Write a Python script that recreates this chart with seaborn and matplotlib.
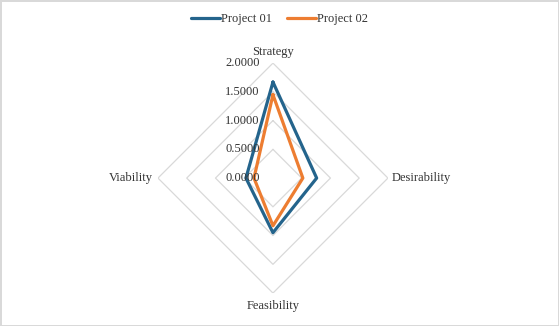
import numpy as np
import pandas as pd
import matplotlib
matplotlib.use("Agg")
import matplotlib.pyplot as plt
import seaborn as sns

categories = ["Strategy", "Desirability", "Feasibility", "Viability"]
project_01 = [1.67, 0.76, 0.95, 0.47]
project_02 = [1.45, 0.52, 0.83, 0.33]
ticks = [0.0, 0.5, 1.0, 1.5, 2.0]
tick_labels = ["0.0000", "0.5000", "1.0000", "1.5000", "2.0000"]

sns.set_style("white")
plt.rcParams["font.family"] = ["Liberation Serif", "DejaVu Serif"]

angles = np.linspace(0, 2 * np.pi, len(categories), endpoint=False)
closed_angles = list(angles) + [2 * np.pi]

# long-form table, first point repeated so each polygon closes
frames = []
for name, vals in [("Project 01", project_01), ("Project 02", project_02)]:
    frames.append(pd.DataFrame({"theta": closed_angles,
                                "r": list(vals) + [vals[0]],
                                "series": name}))
df = pd.concat(frames, ignore_index=True)

fig = plt.figure(figsize=(5.59, 3.26), dpi=100, edgecolor="#d9d9d9", linewidth=1)
ax = fig.add_axes([0.2826, 0.101, 0.4114, 0.7055], projection="polar")
ax.set_theta_offset(np.pi / 2)
ax.set_theta_direction(-1)
ax.set_ylim(0, 2)
ax.grid(False)
ax.spines["polar"].set_visible(False)
ax.set_xticks([])
ax.set_yticks([])

# diamond grid rings
for t in ticks[1:]:
    ax.plot(closed_angles, [t] * len(closed_angles), color="#d9d9d9", lw=0.9, zorder=1)

sns.lineplot(data=df, x="theta", y="r", hue="series", sort=False, estimator=None,
             palette=["#24648c", "#ed7d31"], linewidth=2.3, ax=ax,
             legend=False, zorder=3)
ax.set_xlabel("")
ax.set_ylabel("")

txt_color = "#333333"
for t, lab in zip(ticks, tick_labels):
    ax.annotate(lab, xy=(0, t), xytext=(-22, 0), textcoords="offset points",
                ha="center", va="center", fontsize=9, color=txt_color, zorder=4)

label_pos = [(0, 4, "center", "bottom"), (3, 0, "left", "center"),
             (0, -5, "center", "top"), (-3.5, 0, "right", "center")]
for ang, cat, (dx, dy, ha, va) in zip(angles, categories, label_pos):
    ax.annotate(cat, xy=(ang, 2.0), xytext=(dx, dy), textcoords="offset points",
                ha=ha, va=va, fontsize=9, color=txt_color, annotation_clip=False)

handles = [plt.Line2D([], [], color="#24648c", lw=2.3),
           plt.Line2D([], [], color="#ed7d31", lw=2.3)]
fig.legend(handles, ["Project 01", "Project 02"], loc="upper center",
           bbox_to_anchor=(0.5, 0.995), ncol=2, frameon=False, fontsize=9,
           labelcolor=txt_color, handlelength=2.3, handletextpad=0.1,
           columnspacing=1.2)

fig.savefig("out.png", dpi=100)
